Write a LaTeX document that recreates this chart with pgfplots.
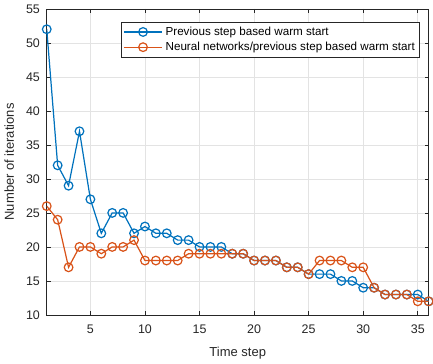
\documentclass[border=0pt]{standalone}
\usepackage{pgfplots}
\pgfplotsset{compat=1.18}
\usepackage{fontspec}
\setmainfont{Liberation Sans}
\definecolor{mblue}{rgb}{0,0.447,0.741}
\definecolor{morange}{rgb}{0.85,0.325,0.098}
\definecolor{mgray}{rgb}{0.15,0.15,0.15}
\begin{document}
\begin{tikzpicture}
\begin{axis}[
  scale only axis,
  width=282pt, height=226pt,
  xmin=1, xmax=36, ymin=10, ymax=55,
  xtick={5,10,15,20,25,30,35},
  ytick={10,15,20,25,30,35,40,45,50,55},
  grid=major,
  major grid style={gray!22, line width=0.4pt},
  tick align=inside,
  tick style={mgray, line width=0.5pt},
  major tick length=3pt,
  axis line style={mgray, line width=0.5pt},
  xlabel={Time step}, ylabel={Number of iterations},
  every tick label/.append style={font=\fontsize{9.2}{10}\selectfont, text=mgray},
  yticklabel style={xshift=-1.5pt},
  xticklabel style={yshift=-4pt},
  label style={font=\fontsize{9.6}{11}\selectfont, text=mgray},
  xlabel style={yshift=-2.5pt},
  ylabel style={yshift=2pt},
  /pgf/number format/assume math mode=true,
  legend style={at={(1,1)}, xshift=-6.5pt, yshift=-9.5pt, anchor=north east, font=\fontsize{8.6}{10}\selectfont, draw=mgray, inner sep=1.5pt, row sep=-0.5pt},
  legend cell align=left,
  legend image code/.code={\draw[mark repeat=2,mark phase=2] plot coordinates {(0cm,0cm) (0.5cm,0cm) (1.0cm,0cm)};},
]
\addplot[mblue, line width=0.9pt, mark=o, mark size=3.2pt, mark options={solid}] coordinates {
(1,52)(2,32)(3,29)(4,37)(5,27)(6,22)(7,25)(8,25)(9,22)(10,23)(11,22)(12,22)(13,21)(14,21)(15,20)(16,20)(17,20)(18,19)(19,19)(20,18)(21,18)(22,18)(23,17)(24,17)(25,16)(26,16)(27,16)(28,15)(29,15)(30,14)(31,14)(32,13)(33,13)(34,13)(35,13)(36,12)};
\addlegendentry{Previous step based warm start}
\addplot[morange, line width=0.9pt, mark=o, mark size=3.2pt, mark options={solid}] coordinates {
(1,26)(2,24)(3,17)(4,20)(5,20)(6,19)(7,20)(8,20)(9,21)(10,18)(11,18)(12,18)(13,18)(14,19)(15,19)(16,19)(17,19)(18,19)(19,19)(20,18)(21,18)(22,18)(23,17)(24,17)(25,16)(26,18)(27,18)(28,18)(29,17)(30,17)(31,14)(32,13)(33,13)(34,13)(35,12)(36,12)};
\addlegendentry{Neural networks/previous step based warm start}
\end{axis}
\end{tikzpicture}
\end{document}
